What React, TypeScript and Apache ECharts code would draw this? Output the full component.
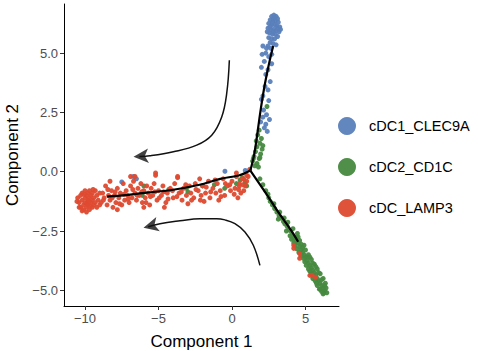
import React, { useEffect, useRef } from "react";
import * as echarts from "echarts";

// ---- data ----
const groupNames = ["cDC1_CLEC9A", "cDC2_CD1C", "cDC_LAMP3"];
const groupColors = ["#5A80BA", "#46893F", "#DE4A30"];

const xTicks = [-10, -5, 0, 5];
const yTicks = [-5, -2.5, 0, 2.5, 5];

const bluePoints: number[][] = [
  [2.7, 6.55], [2.85, 6.6], [3.0, 6.55], [3.1, 6.45], [2.6, 6.4], [2.8, 6.4], [2.95, 6.35], [3.15, 6.3],
  [2.5, 6.25], [2.7, 6.2], [2.9, 6.2], [3.05, 6.15], [3.25, 6.1], [2.45, 6.05], [2.65, 6.0], [2.85, 6.0],
  [3.0, 5.95], [3.2, 5.9], [2.55, 5.85], [2.75, 5.8], [2.95, 5.8], [3.1, 5.7], [2.5, 5.65], [2.7, 5.6],
  [2.9, 5.6], [2.6, 5.45], [2.8, 5.4], [2.45, 5.3], [3.0, 5.35], [2.65, 5.2], [2.85, 6.5], [2.75, 6.3],
  [3.1, 6.05], [2.6, 6.1], [2.8, 5.9], [2.4, 5.9], [3.3, 6.0],
  [2.1, 5.3], [2.3, 5.0], [2.05, 4.95], [2.5, 4.85], [2.2, 4.65], [2.7, 4.55], [2.0, 4.4], [2.45, 4.3],
  [2.3, 4.1], [2.6, 3.8], [2.25, 3.6], [2.45, 3.45], [2.1, 3.2], [2.0, 3.05], [2.5, 3.0], [2.15, 2.6],
  [2.35, 2.4], [2.1, 2.3], [2.3, 2.0], [2.2, 1.85], [2.4, 1.7], [1.95, 2.1], [2.55, 2.2], [2.7, 4.95],
  [2.35, 5.2],
  [-7.5, -0.43], [-6.7, -0.2], [-6.5, -0.3], [-0.48, 0.02], [0.9, 0.05],
];

const greenPoints: number[][] = [
  [2.38, 2.75], [1.85, 1.75], [1.75, 1.55], [2.0, 1.4], [1.9, 1.2], [1.7, 1.05], [2.05, 0.95], [1.6, 0.85],
  [1.95, 0.75], [1.5, 0.65], [1.85, 0.55], [1.4, 0.45], [1.7, 0.35], [1.55, 0.25], [1.9, 0.6], [1.65, 1.3],
  [2.1, 1.1], [1.45, 0.55], [1.8, 0.2],
  [1.9, -0.3], [2.1, -0.55], [2.3, -0.8], [2.5, -1.1], [2.6, -1.25], [2.75, -1.4], [2.9, -1.55], [3.05, -1.7],
  [3.2, -1.85], [3.35, -1.95], [3.5, -2.1], [3.6, -2.2], [3.75, -2.3], [3.85, -2.45], [4.0, -2.5], [4.1, -2.65],
  [4.2, -2.8], [4.35, -2.9], [4.5, -3.0], [4.6, -3.15], [4.7, -3.3], [4.8, -3.4], [4.9, -3.5], [5.0, -3.6],
  [5.1, -3.75], [5.2, -3.85], [5.3, -3.95], [5.4, -4.05], [5.5, -4.15], [5.6, -4.25], [5.7, -4.35], [5.8, -4.5],
  [5.9, -4.6], [6.0, -4.7], [6.1, -4.8], [6.2, -4.9], [6.3, -5.0], [6.25, -5.1], [6.1, -5.05], [5.95, -4.95],
  [5.8, -4.8], [5.65, -4.6], [5.5, -4.5], [5.4, -4.3], [5.3, -4.2], [5.2, -4.1], [5.05, -3.95], [4.95, -3.8],
  [4.85, -3.65], [4.7, -3.55], [4.55, -3.4], [4.4, -3.25], [4.3, -3.1], [4.2, -3.0], [4.05, -2.85], [3.95, -2.7],
  [5.0, -3.3], [5.2, -3.5], [5.4, -3.7], [5.6, -3.9], [5.8, -4.1], [6.0, -4.3], [6.2, -4.5], [6.35, -4.7],
  [6.4, -4.9], [4.8, -3.2], [4.6, -2.9], [4.4, -2.75], [5.7, -4.0], [5.9, -4.25], [6.1, -4.55], [6.3, -4.8],
  [5.5, -3.85], [5.15, -3.6], [4.45, -2.6], [4.7, -3.05], [3.8, -2.13], [6.45, -5.1],
  [2.45, -0.95], [2.85, -1.35], [3.25, -1.7], [3.55, -1.95], [3.15, -2.0], [5.75, -4.7], [6.0, -4.95], [6.2, -5.15],
  [4.15, -2.4], [4.5, -2.75], [3.7, -2.5], [4.9, -3.1], [5.3, -3.6],
  [-6.1, -1.0], [-6.0, -0.6], [-3.1, -0.7], [-3.0, -0.85], [-2.0, -0.6], [-1.2, -0.55], [0.3, -0.5],
  [0.55, -0.35], [0.7, -0.25], [0.9, -0.45], [1.0, -0.6], [-4.3, -0.75], [-0.5, -0.7],
];

const redPoints: number[][] = [
  [-10.5, -1.1], [-10.4, -1.3], [-10.3, -1.0], [-10.3, -1.5], [-10.2, -1.2], [-10.2, -0.9], [-10.1, -1.4],
  [-10.1, -1.6], [-10.0, -1.1], [-10.0, -0.8], [-10.0, -1.3], [-9.9, -1.5], [-9.9, -1.0], [-9.9, -1.7],
  [-9.8, -1.2], [-9.8, -0.9], [-9.8, -1.4], [-9.7, -1.1], [-9.7, -1.6], [-9.7, -0.8], [-9.6, -1.3],
  [-9.6, -1.0], [-9.5, -1.5], [-9.5, -1.2], [-9.5, -0.9], [-9.4, -1.4], [-9.4, -1.1], [-9.3, -1.3],
  [-9.3, -0.8], [-9.2, -1.0], [-9.2, -1.5], [-9.1, -1.2], [-9.0, -0.9], [-9.0, -1.4], [-10.4, -1.5],
  [-10.55, -1.25], [-10.2, -1.65], [-9.85, -1.3], [-9.65, -1.45], [-9.45, -0.75], [-10.05, -0.95], [-9.75, -1.25],
  [-8.9, -1.3], [-8.8, -0.9], [-8.7, -1.1], [-8.6, -0.6], [-8.5, -1.4], [-8.4, -1.0], [-8.3, -1.2], [-8.2, -0.8],
  [-8.1, -1.5], [-8.0, -1.0], [-7.9, -1.3], [-7.8, -0.7], [-7.7, -1.1], [-7.6, -0.9], [-7.5, -1.4], [-7.4, -0.5],
  [-7.3, -1.2], [-7.2, -0.8], [-7.1, -1.0], [-7.0, -1.3], [-6.9, -0.6], [-6.8, -1.1], [-6.7, -0.4], [-6.6, -0.9],
  [-6.5, -1.2], [-6.4, -0.7], [-6.3, -1.0], [-6.2, -0.5], [-6.1, -1.3], [-6.0, -0.8], [-5.9, -1.1], [-5.8, -0.6],
  [-5.7, -0.9], [-5.6, -1.4], [-5.5, -0.7], [-5.4, -1.0], [-5.3, -0.5], [-5.2, -0.15], [-5.1, -1.2], [-5.0, -0.8],
  [-4.8, -1.0], [-4.7, -0.6], [-4.5, -1.3], [-4.4, -0.9], [-4.2, -0.7], [-4.0, -1.1], [-3.9, -0.5], [-3.7, -0.25],
  [-3.6, -0.9], [-3.4, -1.2], [-3.3, -0.7], [-3.1, -1.0], [-2.9, -0.6], [-2.8, -0.9], [-2.6, -1.1], [-2.5, -0.5],
  [-2.3, -0.8], [-2.1, -1.0], [-2.0, -0.6], [-1.8, -0.9], [-1.6, -0.4], [-1.5, -1.1], [-1.3, -0.7], [-1.1, -0.9],
  [-1.0, -0.5], [-0.8, -0.8], [-0.6, -0.3], [-0.5, -1.0], [-0.3, -0.6], [-0.1, -0.8], [0.0, -0.4], [0.2, -0.7],
  [0.3, -0.2], [0.5, -0.5], [0.6, -0.9], [0.8, -0.3], [0.9, -0.6], [1.1, -0.2], [-3.0, -1.35], [-1.9, -1.25],
  [-4.6, -1.5], [-6.0, -1.5], [-7.8, -1.6], [-8.3, -0.4], [-6.6, -0.2], [-2.2, -0.3], [-0.9, -1.2], [0.4, -1.1],
  [-6.9, -0.2], [-5.2, -0.05], [-3.7, -0.2],
  [-8.75, -1.2], [-8.45, -0.75], [-8.15, -1.1], [-7.95, -0.85], [-7.65, -1.35], [-7.35, -0.95], [-7.05, -1.15],
  [-6.75, -0.75], [-6.45, -1.0], [-6.15, -0.85], [-5.85, -1.3], [-5.55, -1.05], [-5.25, -0.85], [-4.95, -1.1],
  [-4.65, -0.85], [-4.35, -1.15], [-4.05, -0.8], [-3.75, -1.05], [-3.45, -0.85], [-3.15, -0.55], [-2.75, -1.2],
  [-2.45, -0.75], [-2.15, -1.2], [-1.75, -0.65], [-1.45, -0.85], [-1.15, -0.35], [-0.75, -1.05], [-0.45, -0.5],
  [-0.15, -0.55], [0.15, -0.95], [0.45, -0.75], [0.75, -0.55], [1.0, -0.4],
  [0.3, -0.05], [0.7, -0.3], [1.0, -0.15], [0.5, -0.6], [0.8, -0.8], [1.2, 0.1],
  [4.2, -3.1], [4.2, -3.23], [4.6, -3.45], [4.6, -3.65], [5.45, -4.37], [5.65, -4.45], [5.3, -4.37],
];

// trajectory (principal graph) branches
const branchUp: number[][] = [[1.25, 0.05], [1.5, 0.7], [1.68, 1.4], [1.9, 2.4], [2.18, 3.5], [2.5, 4.5], [2.8, 5.3]];
const branchLeft: number[][] = [[1.25, 0.05], [0.5, -0.15], [-0.8, -0.3], [-2.2, -0.55], [-4.2, -0.78], [-5.8, -0.88], [-7.4, -1.0], [-8.5, -1.05]];
const branchDown: number[][] = [[1.25, 0.05], [2.3, -0.9], [3.2, -1.75], [4.0, -2.45], [4.5, -2.95]];

// annotation arrows
const arrowUpper: number[][] = [[-0.18, 4.7], [-0.36, 3.3], [-0.7, 2.31], [-1.38, 1.54], [-2.4, 1.12], [-3.99, 0.84], [-5.58, 0.67], [-6.3, 0.64]];
const arrowLower: number[][] = [[1.9, -3.95], [1.45, -3.1], [0.88, -2.54], [0.2, -2.19], [-0.48, -2.03], [-1.04, -1.98], [-2.18, -1.98], [-3.54, -2.07], [-4.9, -2.19], [-5.7, -2.32]];
const arrowHeads: { value: number[]; rotate: number }[] = [
  { value: [-6.7, 0.63], rotate: 94 },
  { value: [-6.02, -2.36], rotate: 104 },
];

const fmt = (v: number) => {
  const s = Math.abs(v) < 1e-9 ? "0.0" : Math.abs(v).toFixed(1);
  return v < 0 ? "\u2212" + s : s;
};
const fmtX = (v: number) => (v < 0 ? "\u2212" + Math.abs(v) : String(v));

export default function App() {
  const ref = useRef<HTMLDivElement>(null);
  useEffect(() => {
    if (!ref.current) return;
    const chart = echarts.init(ref.current, undefined, { renderer: "svg" });
    const axisCommon = {
      axisLine: { show: true, onZero: false, lineStyle: { color: "#000", width: 1 } },
      splitLine: { show: false },
    };
    const pointSeries = [bluePoints, greenPoints, redPoints].map((pts, i) => ({
      name: groupNames[i],
      type: "scatter",
      data: pts,
      symbol: "circle",
      symbolSize: 5,
      itemStyle: { color: groupColors[i], opacity: 0.95 },
      z: 2,
    }));
    const lineSeries = [branchUp, branchLeft, branchDown].map((pts) => ({
      type: "line",
      data: pts,
      showSymbol: false,
      symbol: "none",
      smooth: 0.3,
      lineStyle: { color: "#000", width: 2.2 },
      z: 3,
      silent: true,
    }));
    const arrowLines = [arrowUpper, arrowLower].map((pts) => ({
      type: "line",
      data: pts,
      symbol: "none",
      smooth: 0.4,
      lineStyle: { color: "#111", width: 1.5 },
      z: 3,
      silent: true,
    }));
    chart.setOption({
      animation: false,
      backgroundColor: "#fff",
      grid: { left: 64, top: 4, width: 275, height: 302, containLabel: false, outerBoundsMode: "none" },
      xAxis: {
        type: "value",
        min: -11.43,
        max: 7.28,
        ...axisCommon,
        axisTick: { show: true, length: 4, customValues: xTicks, lineStyle: { color: "#333" } },
        axisLabel: {
          customValues: xTicks,
          formatter: fmtX,
          color: "#4D4D4D",
          fontSize: 13,
          fontFamily: "Liberation Sans, Arial, sans-serif",
          margin: 6,
        },
        name: "Component 1",
        nameLocation: "middle",
        nameGap: 27,
        nameTextStyle: { color: "#000", fontSize: 17, fontFamily: "Liberation Sans, Arial, sans-serif" },
      },
      yAxis: {
        type: "value",
        min: -5.66,
        max: 7.07,
        ...axisCommon,
        axisTick: { show: true, length: 4, customValues: yTicks, lineStyle: { color: "#333" } },
        axisLabel: {
          customValues: yTicks,
          formatter: fmt,
          color: "#4D4D4D",
          fontSize: 13,
          fontFamily: "Liberation Sans, Arial, sans-serif",
          margin: 6,
        },
        name: "Component 2",
        nameLocation: "middle",
        nameGap: 41,
        nameRotate: 90,
        nameTextStyle: { color: "#000", fontSize: 17, fontFamily: "Liberation Sans, Arial, sans-serif" },
      },
      legend: {
        data: groupNames,
        orient: "vertical",
        left: 338,
        top: 117,
        padding: 0,
        itemWidth: 18,
        itemHeight: 18,
        itemGap: 23,
        icon: "circle",
        textStyle: {
          color: "#000",
          fontSize: 14.5,
          fontFamily: "Liberation Sans, Arial, sans-serif",
          padding: [0, 0, 0, 8],
        },
      },
      series: [
        ...pointSeries,
        ...lineSeries,
        ...arrowLines,
        {
          type: "scatter",
          data: arrowHeads.map((a) => ({ value: a.value, symbolRotate: a.rotate })),
          symbol: "arrow",
          symbolSize: [11, 15],
          itemStyle: { color: "#111" },
          z: 4,
          silent: true,
        },
      ],
    });
    return () => chart.dispose();
  }, []);
  return <div ref={ref} style={{ width: 478, height: 351, position: "absolute", left: 0, top: 0 }} />;
}
